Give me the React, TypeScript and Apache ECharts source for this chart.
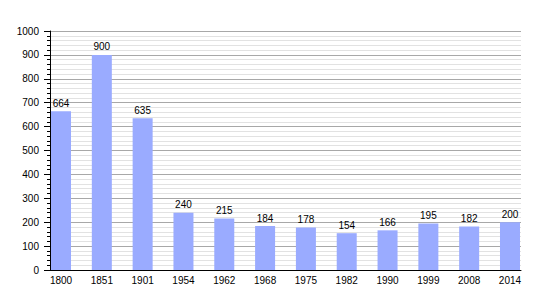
import React, { useEffect, useRef } from "react";
import * as echarts from "echarts";

const years = ["1800", "1851", "1901", "1954", "1962", "1968", "1975", "1982", "1990", "1999", "2008", "2014"];
const population = [664, 900, 635, 240, 215, 184, 178, 154, 166, 195, 182, 200];
const yMin = 0;
const yMax = 1000;
const yStep = 100;

const FONT = "'Liberation Sans', Arial, sans-serif";

export default function App() {
  const ref = useRef<HTMLDivElement>(null);
  useEffect(() => {
    if (!ref.current) return;
    const chart = echarts.init(ref.current, undefined, { renderer: "svg" });
    chart.setOption({
      animation: false,
      backgroundColor: "#ffffff",
      textStyle: { fontFamily: FONT },
      grid: [
        { left: 50, right: 29, top: 31, bottom: 30, containLabel: false },
        { left: 40.6, right: 19.6, top: 31, bottom: 30, containLabel: false },
      ],
      xAxis: [
        {
          type: "value",
          gridIndex: 0,
          min: 0,
          max: 1,
          axisLine: { show: true, lineStyle: { color: "#000", width: 1 } },
          axisTick: { show: false },
          axisLabel: { show: false },
          splitLine: { show: false },
        },
        {
          type: "category",
          gridIndex: 1,
          data: years,
          boundaryGap: true,
          axisLine: { show: false },
          axisTick: { show: false },
          axisLabel: { show: true, interval: 0, color: "#000", fontSize: 10, fontFamily: FONT, margin: 5 },
          splitLine: { show: false },
        },
      ],
      yAxis: [
        {
          type: "value",
          gridIndex: 0,
          min: yMin,
          max: yMax,
          interval: yStep,
          axisLine: { show: true, lineStyle: { color: "#000", width: 1 } },
          axisTick: { show: true, inside: false, length: 6, lineStyle: { color: "#000" } },
          minorTick: { show: true, splitNumber: 5, length: 3, lineStyle: { color: "#000" } },
          axisLabel: {
            color: "#000",
            fontSize: 10,
            fontFamily: FONT,
            margin: 11,
            formatter: (v: number) => String(v),
          },
          splitLine: { show: true, lineStyle: { color: "#a8a8a8", width: 1 } },
          minorSplitLine: { show: true, lineStyle: { color: "#e2e2e2", width: 1 } },
        },
        {
          type: "value",
          gridIndex: 1,
          min: yMin,
          max: yMax,
          show: false,
          splitLine: { show: false },
        },
      ],
      series: [
        {
          type: "bar",
          xAxisIndex: 1,
          yAxisIndex: 1,
          data: population,
          barWidth: 20,
          itemStyle: { color: "#9aabff" },
          label: {
            show: true,
            position: "top",
            distance: 3,
            color: "#000",
            fontSize: 10,
            fontFamily: FONT,
          },
        },
      ],
    });
    return () => chart.dispose();
  }, []);
  return (
    <div
      ref={ref}
      style={{ position: "fixed", left: 0, top: 0, width: 550, height: 300 }}
    />
  );
}
